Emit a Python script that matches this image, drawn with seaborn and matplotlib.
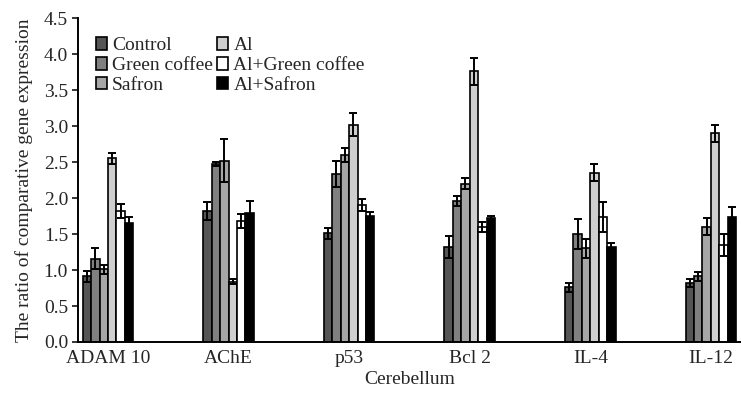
import matplotlib
matplotlib.use('Agg')
import matplotlib.pyplot as plt
import seaborn as sns
import pandas as pd
import numpy as np

genes = ["ADAM 10", "AChE", "p53", "Bcl 2", "IL-4", "IL-12"]
groups = ["Control", "Green coffee", "Safron", "Al", "Al+Green coffee", "Al+Safron"]

control = [0.91, 1.82, 1.51, 1.32, 0.76, 0.82]
green_coffee = [1.16, 2.47, 2.34, 1.96, 1.50, 0.91]
safron = [1.01, 2.52, 2.60, 2.20, 1.30, 1.60]
al = [2.55, 0.84, 3.02, 3.76, 2.35, 2.90]
al_green_coffee = [1.82, 1.68, 1.90, 1.60, 1.74, 1.35]
al_safron = [1.66, 1.79, 1.75, 1.72, 1.32, 1.73]

control_err = [0.07, 0.12, 0.08, 0.15, 0.06, 0.05]
green_coffee_err = [0.15, 0.03, 0.18, 0.07, 0.21, 0.06]
safron_err = [0.06, 0.30, 0.10, 0.08, 0.13, 0.12]
al_err = [0.08, 0.04, 0.16, 0.19, 0.12, 0.12]
al_green_coffee_err = [0.10, 0.10, 0.08, 0.07, 0.21, 0.15]
al_safron_err = [0.07, 0.17, 0.05, 0.03, 0.06, 0.14]

colors = ["#555555", "#808080", "#a6a6a6", "#cfcfcf", "#ffffff", "#000000"]

series = [control, green_coffee, safron, al, al_green_coffee, al_safron]
errs = [control_err, green_coffee_err, safron_err, al_err, al_green_coffee_err, al_safron_err]

rows = []
for g, vals in zip(groups, series):
    for gene, v in zip(genes, vals):
        rows.append({"gene": gene, "group": g, "value": v})
df = pd.DataFrame(rows)

sns.set_style("ticks")
plt.rcParams['font.family'] = ['Liberation Serif', 'DejaVu Serif']

fig = plt.figure(figsize=(7.41, 3.94), dpi=100)
ax = fig.add_axes([0.105, 0.132, 0.895, 0.822])

sns.barplot(data=df, x="gene", y="value", hue="group", hue_order=groups,
            order=genes, palette=colors, edgecolor="black", linewidth=1.2,
            width=0.42, errorbar=None, ax=ax)

for cont, err in zip(ax.containers, errs):
    xs = [b.get_x() + b.get_width() / 2 for b in cont]
    ys = [b.get_height() for b in cont]
    ax.errorbar(xs, ys, yerr=err, fmt='none', ecolor='black', elinewidth=1.4,
                capsize=3.2, capthick=1.4, zorder=5)

ax.set_ylim(0, 4.5)
ax.set_yticks(np.arange(0, 4.51, 0.5))
ax.set_yticklabels([f"{v:.1f}" for v in np.arange(0, 4.51, 0.5)])
ax.set_xlim(-0.25, 5.25)
ax.tick_params(axis='x', length=0, labelsize=14, pad=6)
ax.tick_params(axis='y', length=4, width=1.3, labelsize=14, direction='out', pad=3)
for s in ['top', 'right']:
    ax.spines[s].set_visible(False)
for s in ['left', 'bottom']:
    ax.spines[s].set_linewidth(1.4)
    ax.spines[s].set_color('black')

ax.set_xlabel("Cerebellum", fontsize=14, labelpad=3)
ax.set_ylabel("The ratio of comparative gene expression", fontsize=14, labelpad=8)

leg = ax.legend(ncol=2, frameon=False, loc='upper left', bbox_to_anchor=(0.015, 0.965),
                handlelength=0.6, handleheight=0.6, columnspacing=0.2,
                handletextpad=0.25, labelspacing=0.15, fontsize=14, borderaxespad=0)

fig.savefig("out.png", dpi=100)
